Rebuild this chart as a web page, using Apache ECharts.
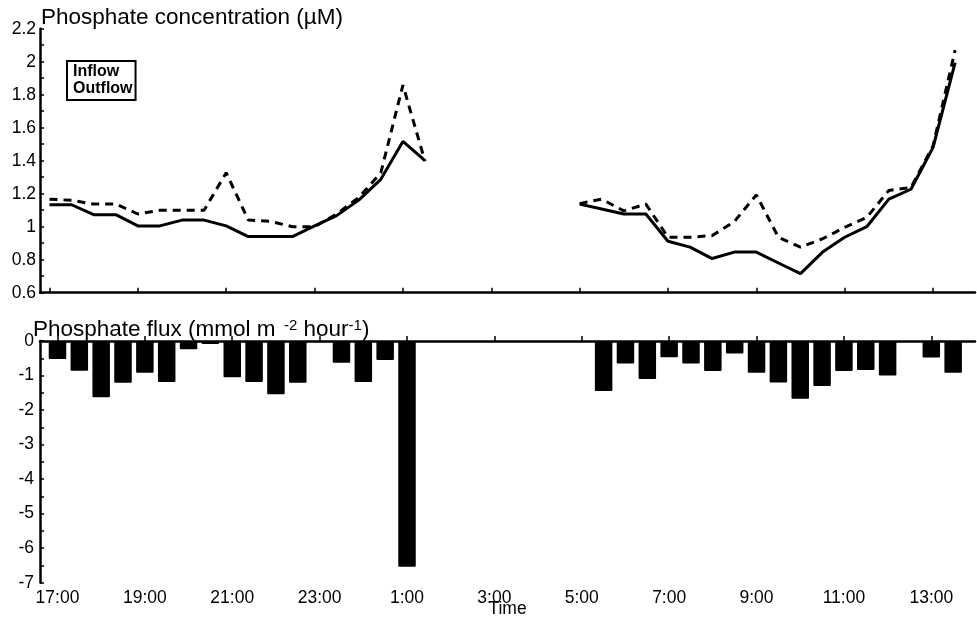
<!DOCTYPE html>
<html><head><meta charset="utf-8">
<script src="https://cdn.jsdelivr.net/npm/echarts@6/dist/echarts.min.js"></script>
<style>html,body{margin:0;padding:0;background:#fff}#c{width:977px;height:621px}</style>
</head><body><div id="c"></div>
<script>
// ---- data ----
const concTimes = ['17:00','17:30','18:00','18:30','19:00','19:30','20:00','20:30','21:00','21:30','22:00','22:30','23:00','23:30','0:00','0:30','1:00','1:30',
  '3:00',
  '5:00','5:30','6:00','6:30','7:00','7:30','8:00','8:30','9:00','9:30','10:00','10:30','11:00','11:30','12:00','12:30','13:00','13:30'];
const inflow = [1.167,1.16,1.137,1.137,1.077,1.10,1.10,1.10,1.327,1.04,1.032,1.0,1.0,1.077,1.177,1.327,1.858,1.397,
  null,
  1.14,1.167,1.096,1.137,0.936,0.936,0.946,1.03,1.193,0.936,0.876,0.927,0.996,1.056,1.22,1.237,1.49,2.07];
const outflow = [1.133,1.133,1.073,1.073,1.005,1.005,1.04,1.04,1.005,0.94,0.94,0.94,1.005,1.067,1.161,1.287,1.517,1.40,
  null,
  1.137,1.107,1.077,1.077,0.912,0.876,0.807,0.846,0.846,0.78,0.716,0.846,0.936,1.0,1.167,1.227,1.48,1.995];
const fluxTimes = ['17:00','17:30','18:00','18:30','19:00','19:30','20:00','20:30','21:00','21:30','22:00','22:30','23:00','23:30','0:00','0:30','1:00',
  '5:30','6:00','6:30','7:00','7:30','8:00','8:30','9:00','9:30','10:00','10:30','11:00','11:30','12:00','12:30','13:00','13:30'];
const flux = [-0.52,-0.86,-1.63,-1.21,-0.92,-1.19,-0.24,-0.09,-1.05,-1.19,-1.54,-1.21,null,-0.63,-1.19,-0.55,-6.54,
  -1.45,-0.65,-1.10,-0.47,-0.65,-0.87,-0.36,-0.92,-1.20,-1.67,-1.30,-0.87,-0.84,-1.0,null,-0.48,-0.92];
const tickLabels = ['17:00','19:00','21:00','23:00','1:00','3:00','5:00','7:00','9:00','11:00','13:00'];

// ---- helpers ----
function toHour(t){ const [h,m] = t.split(':').map(Number); let v = h + m/60; if (v < 17) v += 24; return v; }
const tickHours = tickLabels.map(toHour);
const labelOf = v => { const h = Math.round(v) % 24; return h + ':00'; };
const font = 'Liberation Sans, Arial, Helvetica, sans-serif';

const chart = echarts.init(document.getElementById('c'));
const axisLine = { show: true, lineStyle: { color: '#000', width: 2.5 } };
chart.setOption({
  backgroundColor: '#fff',
  animation: false,
  textStyle: { fontFamily: font, color: '#000' },
  title: [
    { text: 'Phosphate concentration (µM)', left: 41, top: 6, padding: 0,
      textStyle: { fontFamily: font, fontSize: 22.5, fontWeight: 'normal', color: '#000' } },
    { text: '{a|Phosphate flux (mmol m}{s|  -2}{a| hour}{s|-1}{a|)}', left: 33, top: 318, padding: 0,
      textStyle: { fontWeight: 'normal', rich: {
        a: { fontFamily: font, fontSize: 22.5, fontWeight: 'normal', color: '#000', verticalAlign: 'bottom', lineHeight: 23 },
        s: { fontFamily: font, fontSize: 15, fontWeight: 'normal', color: '#000', verticalAlign: 'top', lineHeight: 23 }
      } } }
  ],
  legend: {
    data: ['Inflow', 'Outflow'], orient: 'vertical', left: 67, top: 61,
    borderColor: '#000', borderWidth: 2, borderRadius: 0, padding: [3, 3, 3, 1],
    itemGap: 1, itemWidth: 0, itemHeight: 0, icon: 'rect',
    textStyle: { fontFamily: font, fontSize: 16, fontWeight: 'bold', color: '#000', padding: 0 }
  },
  grid: [
    { left: 40, top: 28.7, width: 935, height: 264, containLabel: false, outerBoundsMode: 'none' },
    { left: 40, top: 341, width: 935, height: 241.7, containLabel: false, outerBoundsMode: 'none' }
  ],
  xAxis: [
    { type: 'value', gridIndex: 0, min: 16.785, max: 37.95,
      axisLine, splitLine: { show: false },
      axisTick: { show: true, inside: true, length: 5, lineStyle: { color: '#000', width: 1.5 }, customValues: tickHours },
      axisLabel: { show: false } },
    { type: 'value', gridIndex: 1, min: 16.6, max: 38.0,
      axisLine, splitLine: { show: false },
      axisTick: { show: true, inside: true, length: 5, lineStyle: { color: '#000', width: 1.5 }, customValues: tickHours },
      axisLabel: { show: true, customValues: tickHours, formatter: labelOf, margin: 6,
        fontFamily: font, fontSize: 17.5, color: '#000' },
      name: 'Time', nameLocation: 'middle', nameGap: 17, nameMoveOverlap: false,
      nameTextStyle: { fontFamily: font, fontSize: 17.5, color: '#000', verticalAlign: 'top' } }
  ],
  yAxis: [
    { type: 'value', gridIndex: 0, min: 0.6, max: 2.2, interval: 0.2,
      axisLine, splitLine: { show: false },
      axisTick: { show: true, inside: true, length: 4, lineStyle: { color: '#000', width: 1.5 } },
      minorTick: { show: true, splitNumber: 2, length: 4, lineStyle: { color: '#000', width: 1.5 } },
      axisLabel: { margin: 4, fontFamily: font, fontSize: 17.5, color: '#000',
        formatter: v => String(parseFloat(v.toFixed(1))) } },
    { type: 'value', gridIndex: 1, min: -7, max: 0, interval: 1,
      axisLine, splitLine: { show: false },
      axisTick: { show: true, inside: true, length: 4, lineStyle: { color: '#000', width: 1.5 } },
      minorTick: { show: true, splitNumber: 2, length: 4, lineStyle: { color: '#000', width: 1.5 } },
      axisLabel: { margin: 6, fontFamily: font, fontSize: 17.5, color: '#000',
        formatter: v => String(Math.round(v)) } }
  ],
  series: [
    { name: 'Inflow', type: 'line', xAxisIndex: 0, yAxisIndex: 0, symbol: 'none', connectNulls: false,
      lineStyle: { color: '#000', width: 3, type: [8, 6] }, itemStyle: { color: '#000' },
      data: concTimes.map((t, i) => [toHour(t), inflow[i]]) },
    { name: 'Outflow', type: 'line', xAxisIndex: 0, yAxisIndex: 0, symbol: 'none', connectNulls: false,
      lineStyle: { color: '#000', width: 3 }, itemStyle: { color: '#000' },
      data: concTimes.map((t, i) => [toHour(t), outflow[i]]) },
    { name: 'Flux', type: 'bar', xAxisIndex: 1, yAxisIndex: 1, barWidth: 17.5,
      itemStyle: { color: '#000', borderRadius: 1 },
      data: fluxTimes.map((t, i) => [toHour(t), flux[i]]) }
  ]
});
</script>
</body></html>
